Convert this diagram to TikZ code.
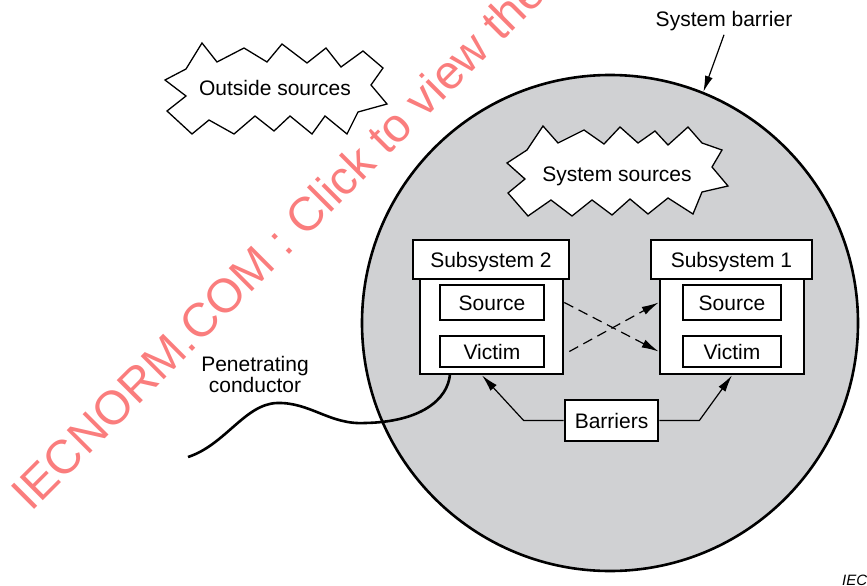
\documentclass[tikz,border=0pt]{standalone}
\usepackage{fontspec}
\setmainfont{Liberation Sans}
\usetikzlibrary{arrows.meta}

\definecolor{fondo}{RGB}{208,209,211}
\definecolor{marca}{RGB}{250,125,125}

\begin{document}
\begin{tikzpicture}[x=1pt, y=-1pt,
    every node/.style={font=\fontsize{21}{21}\selectfont},
    caja/.style={draw, line width=2.7pt, fill=white, inner sep=0pt, text height=15pt, text depth=0pt},
    nube/.style={draw, line width=1.3pt, fill=white, line join=miter},
    flecha/.style={line width=1.2pt, -{Latex[length=17pt, width=8.5pt]}},
    rayas/.style={flecha, dash pattern=on 10pt off 6pt}]

    \useasboundingbox (0,0) rectangle (867,586);
    \clip (0,0) rectangle (867,586);

    %barrera del sistema
    \node[circle, draw, line width=2.6pt, fill=fondo, minimum size=496pt, inner sep=0pt] (barrera) at (610,323) {};
    \node (lbarrera) at (724,21.5) {System barrier};
    \draw[flecha, -{Latex[length=16pt, width=8pt]}] (lbarrera.south) -- (barrera.68.6);


    %fuentes externas
    \draw[nube] (165,80) -- (186,69) -- (202,43) -- (217,62) -- (244,48) -- (267,62) -- (282,44)
        -- (307,63) -- (326,48) -- (341,67) -- (363,51) -- (383,68) -- (371,85) -- (387,104)
        -- (358,112) -- (347,134) -- (325,116) -- (312,134) -- (290,116) -- (274,131) -- (255,116)
        -- (234,134) -- (209,120) -- (192,134) -- (167,111) -- (186,96) -- cycle;
    \node[anchor=base] (externas) at (275,95) {Outside sources};

    %fuentes del sistema
    \draw[nube] (507,163) -- (527,150) -- (543,126) -- (558,143) -- (584,130) -- (604,144) -- (620,127)
        -- (638,143) -- (655,131) -- (668,145) -- (688,127) -- (702,143) -- (722,150) -- (712,167)
        -- (728,186) -- (702,192) -- (693,214) -- (668,198) -- (648,214) -- (630,199) -- (612,215)
        -- (592,200) -- (572,216) -- (551,200) -- (528,216) -- (508,193) -- (525,179) -- cycle;
    \node[anchor=base] (internas) at (617,181) {System sources};


    %conductor
    \coordinate (extremo) at (188,457);
    \draw[line width=2.6pt] (extremo) .. controls (225,445) and (245,404) .. (277,403)
        .. controls (310,402) and (330,425) .. (365,423)
        .. controls (420,422) and (448,400) .. (450,0 |- 0,374);
    \node[align=center] (lconductor) at (255,374) {Penetrating\\conductor};


    %subsistema 2
    \node[caja, minimum width=143pt, minimum height=95pt] (sub2) at (491.5,326.5) {};
    \node[caja, minimum width=156pt, minimum height=39pt] (sub2titulo) at (491,259.5) {Subsystem 2};
    \node[caja, minimum width=104pt, minimum height=35pt] (sub2fuente) at (492,302.5) {Source};
    \node[caja, minimum width=104pt, minimum height=31pt] (sub2victima) at (492,351.5) {Victim};

    %subsistema 1
    \node[caja, minimum width=144pt, minimum height=95pt] (sub1) at (732,326.5) {};
    \node[caja, minimum width=161pt, minimum height=39pt] (sub1titulo) at (731.5,259.5) {Subsystem 1};
    \node[caja, minimum width=98pt, minimum height=35pt] (sub1fuente) at (732,302.5) {Source};
    \node[caja, minimum width=98pt, minimum height=31pt] (sub1victima) at (732,351.5) {Victim};

    %acoplamientos
    \draw[rayas] ([xshift=19pt]sub2fuente.east) -- ([xshift=-23pt]sub1victima.west);
    \draw[rayas] ([xshift=24pt]sub2victima.east) -- ([xshift=-23pt]sub1fuente.west);

    %barreras
    \node[caja, minimum width=93pt, minimum height=41pt] (barreras) at (611.5,420.5) {Barriers};
    \draw[flecha] (barreras.west) -- ++(-40,0) -- ([xshift=-9.5pt]sub2.south);
    \draw[flecha] (barreras.east) -- ++(40,0) -- (sub1.south);


    \node[anchor=base west, inner sep=0pt, font=\fontsize{15}{15}\selectfont\itshape] (iec) at (842,585) {IEC};

    %marca de agua
    \node[rotate=45, anchor=base west, inner sep=0pt, text=marca, font=\fontsize{47.5}{47.5}\selectfont] (marcaagua) at (31,513) {IECNORM.COM : Click to view the};

\end{tikzpicture}
\end{document}
